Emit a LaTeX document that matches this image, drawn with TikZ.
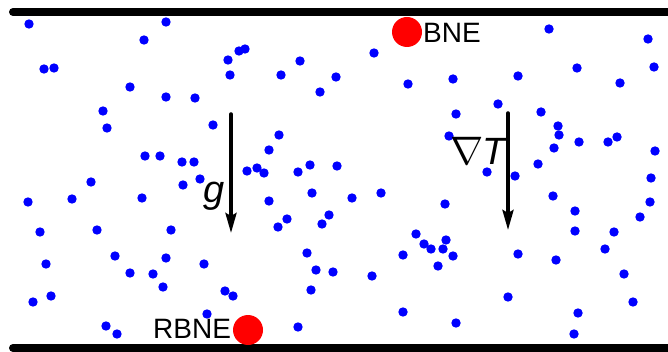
\documentclass[tikz,border=0pt]{standalone}
\usepackage{fontspec}
\usepackage{graphicx}
\setmainfont{Liberation Sans}
\usetikzlibrary{arrows.meta}
\begin{document}
\begin{tikzpicture}[x=1pt,y=-1pt,
  particle/.style={fill=blue,draw=none},
  bigdot/.style={circle,fill=red,draw=none,minimum size=30pt,inner sep=0pt},
  wall/.style={line width=8pt,line cap=round},
  field/.style={line width=3.5pt,line cap=round,-{Stealth[length=20pt,width=11pt,inset=3pt]}},
  lab/.style={font=\fontsize{28}{30}\selectfont,inner sep=0pt},
  sym/.style={font=\fontsize{38}{40}\selectfont,inner sep=0pt}]
\clip (0,0) rectangle (668,352);
\fill[white] (0,0) rectangle (668,352);
% walls
\coordinate (tl) at (13,12); \coordinate (tr) at (680,12);
\coordinate (bl) at (13,348); \coordinate (br) at (680,348);
\draw[wall] (tl) -- (tr);
\draw[wall] (bl) -- (br);
% particles
\foreach \x/\y in {29/24,166/22,144/40,44/69,54/68,130/87,166/97,103/111,107/128,145/156,160/156,91/182,
228/60,239/51,245/49,230/75,300/61,281/75,336/77,320/92,195/98,213/125,279/135,269/150,182/162,194/162,
200/179,247/171,257/168,264/173,298/172,310/165,337/166,374/53,408/84,453/79,498/104,456/114,449/136,
487/172,549/29,648/39,518/76,577/68,654/67,620/83,541/112,558/126,559/135,554/148,579/142,608/142,
617/137,655/151,538/164,515/176,651/178,28/202,72/199,142/198,40/232,97/230,171/230,115/256,166/258,
46/264,130/273,153/274,163/287,33/302,51/296,106/326,117/334,183/185,269/201,312/193,287/219,278/227,
329/215,322/224,204/264,307/253,316/270,333/272,225/291,233/296,311/290,207/314,298/327,352/198,
381/193,445/204,416/234,424/244,431/249,446/240,443/249,453/256,403/255,438/266,372/276,403/312,
456/323,553/196,575/211,650/202,640/217,575/231,614/232,605/249,518/254,556/260,624/274,508/297,
633/302,578/313,574/334}
  \fill[particle] (\x,\y) circle (4.7pt);
% red particles and labels
\node[bigdot] (bne) at (407,32) {};
\node[lab,anchor=base west] (bnelab) at (423,43) {BNE};
\node[bigdot] (rbne) at (248,330) {};
\node[lab,anchor=base west] (rbnelab) at (153,338) {RBNE};
% arrows
\coordinate (g1) at (231,114); \coordinate (g2) at (231,233);
\draw[field] (g1) -- (g2);
\coordinate (t1) at (508,113); \coordinate (t2) at (508,230);
\draw[field] (t1) -- (t2);
\node[sym] (glab) at (214,196) {\itshape g};
\node[sym,anchor=base west] (tlab) at (450,165) {\scalebox{1.6}{$\nabla$}\kern-1pt\itshape T};
\end{tikzpicture}
\end{document}
